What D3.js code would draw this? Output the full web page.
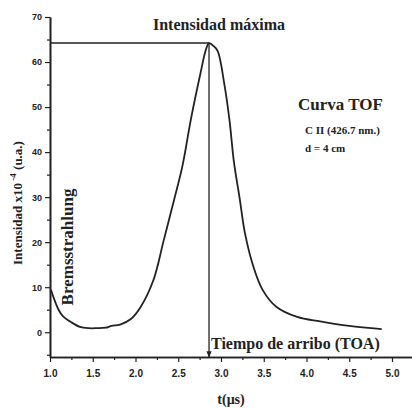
<!DOCTYPE html>
<html>
<head>
<meta charset="utf-8">
<script src="https://cdn.jsdelivr.net/npm/d3@7"></script>
<style>
  html, body { margin: 0; padding: 0; background: #fff; }
  svg { display: block; font-family: "Liberation Serif", "DejaVu Serif", serif; }
  .tick text { font-weight: bold; fill: #222; }
</style>
</head>
<body>
<svg id="chart"></svg>
<script>
const tiempo = [1.01, 1.05, 1.10, 1.15, 1.25, 1.35, 1.45, 1.55, 1.65, 1.72, 1.82, 1.95, 2.06, 2.21, 2.33,
  2.45, 2.55, 2.65, 2.76, 2.82, 2.86, 2.91, 2.96, 3.04, 3.10, 3.15, 3.22, 3.28, 3.38, 3.49, 3.65,
  3.89, 4.16, 4.50, 4.88];
const intensidad = [9.5, 7.3, 5.0, 3.6, 2.2, 1.2, 0.9, 0.9, 1.0, 1.4, 1.7, 3.0, 5.6, 11.6, 20.4,
  29.3, 37.0, 47.5, 57.5, 62.5, 64.2, 63.6, 62.5, 55.0, 47.0, 38.0, 29.5, 22.0, 14.5, 9.3, 5.6,
  3.4, 2.4, 1.4, 0.7];
const xTicks = [1.0, 1.5, 2.0, 2.5, 3.0, 3.5, 4.0, 4.5, 5.0];
const yTicks = [0, 10, 20, 30, 40, 50, 60, 70];
const picoT = 2.86;      // tiempo de arribo (TOA)
const picoI = 64.2;      // intensidad máxima

const width = 412;
const height = 408;
const marginTop = 17;
const marginRight = 0;
const marginBottom = 51;
const marginLeft = 50;

const data = tiempo.map((t, i) => ({t, v: intensidad[i]}));

// escalas
const x = d3.scaleLinear([1.0, 5.234], [marginLeft, width - marginRight]);
const y = d3.scaleLinear([-5.5, 70], [height - marginBottom, marginTop]);

const svg = d3.select("#chart")
  .attr("width", width)
  .attr("height", height)
  .attr("viewBox", [0, 0, width, height]);

svg.append("defs").append("marker")
  .attr("id", "flecha")
  .attr("viewBox", "0 0 10 10")
  .attr("refX", 9).attr("refY", 5)
  .attr("markerWidth", 5).attr("markerHeight", 5)
  .attr("orient", "auto")
  .append("path")
  .attr("d", "M0,1 L10,5 L0,9 z")
  .attr("fill", "#222");

// eje X
const gx = svg.append("g")
  .attr("transform", `translate(0,${height - marginBottom})`);
gx.call(d3.axisBottom(x)
    .tickValues(d3.range(1.25, 5.1, 0.5))
    .tickFormat("")
    .tickSize(3)
    .tickSizeOuter(0));
gx.append("g").call(d3.axisBottom(x)
    .tickValues(xTicks)
    .tickFormat(d3.format(".1f"))
    .tickSize(5)
    .tickSizeOuter(0)
    .tickPadding(8))
  .selectAll(".tick text")
    .style("font-size", "10px");

// eje Y
const gy = svg.append("g")
  .attr("transform", `translate(${marginLeft},0)`);
gy.call(d3.axisLeft(y)
    .tickValues(d3.range(-5, 70, 10))
    .tickFormat("")
    .tickSize(3)
    .tickSizeOuter(0));
gy.append("g").call(d3.axisLeft(y)
    .tickValues(yTicks)
    .tickFormat(d3.format("d"))
    .tickSize(5)
    .tickSizeOuter(0)
    .tickPadding(3))
  .selectAll(".tick text")
    .style("font-size", "9px");

svg.selectAll(".domain").attr("stroke", "#222").attr("stroke-width", 1.6);
svg.selectAll(".tick line").attr("stroke", "#222").attr("stroke-width", 1.2);

// líneas de intensidad máxima y TOA
svg.append("line")
  .attr("x1", x(1.0)).attr("x2", x(picoT))
  .attr("y1", y(picoI)).attr("y2", y(picoI))
  .attr("stroke", "#222").attr("stroke-width", 1.5);
svg.append("line")
  .attr("x1", x(picoT)).attr("x2", x(picoT))
  .attr("y1", y(picoI)).attr("y2", y(-5.5))
  .attr("stroke", "#222").attr("stroke-width", 1.3)
  .attr("marker-end", "url(#flecha)");

// curva
const line = d3.line()
  .x(d => x(d.t))
  .y(d => y(d.v))
  .curve(d3.curveCatmullRom);

svg.append("path")
  .datum(data)
  .attr("fill", "none")
  .attr("stroke", "#222")
  .attr("stroke-width", 1.8)
  .attr("d", line);

// textos
const txt = (s, px, py, size, opts = {}) => svg.append("text")
  .attr("x", px).attr("y", py)
  .attr("font-size", size)
  .attr("font-weight", opts.weight || "bold")
  .attr("text-anchor", opts.anchor || "start")
  .attr("fill", "#222")
  .text(s);

txt("Intensidad máxima", 219, 30, 16, {anchor: "middle"});
txt("Curva TOF", 298, 110, 17);
txt("C II (426.7 nm.)", 305, 134, 11);
txt("d = 4 cm", 305, 152, 11);
txt("Tiempo de arribo (TOA)", 211, 349, 16);
txt("t(μs)", 231, 404, 14, {anchor: "middle"});

svg.append("text")
  .attr("transform", "translate(73,247) rotate(-90)")
  .attr("text-anchor", "middle")
  .attr("font-size", 17)
  .attr("font-weight", "bold")
  .attr("fill", "#222")
  .attr("stroke", "#fff").attr("stroke-width", 4)
  .attr("paint-order", "stroke")
  .text("Bremsstrahlung");

const yl = svg.append("text")
  .attr("transform", "translate(22,203) rotate(-90)")
  .attr("text-anchor", "middle")
  .attr("font-size", 13)
  .attr("font-weight", "bold")
  .attr("fill", "#222");
yl.append("tspan").text("Intensidad x10");
yl.append("tspan").attr("dy", -6).attr("font-size", 9).text(" -4");
yl.append("tspan").attr("dy", 6).text(" (u.a.)");
</script>
</body>
</html>
